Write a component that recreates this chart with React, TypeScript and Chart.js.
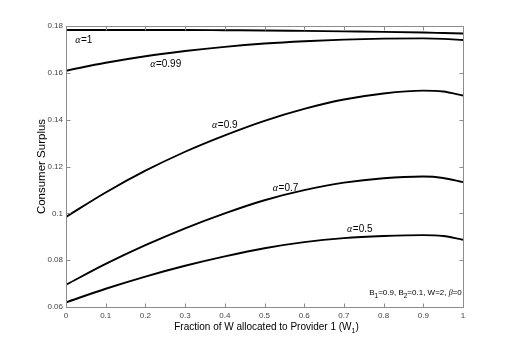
import React, { useEffect, useRef } from "react";
import { Chart, registerables } from "chart.js";

Chart.register(...registerables);

// ---- data ----
const xValues = [0, 0.1, 0.2, 0.3, 0.4, 0.5, 0.6, 0.7, 0.8, 0.9, 0.95, 1];
const alpha1 = [0.1783, 0.1783, 0.1783, 0.1783, 0.1782, 0.1781, 0.1779, 0.1777, 0.1775, 0.1772, 0.177, 0.1768];
const alpha099 = [0.1609, 0.1643, 0.1671, 0.1693, 0.1711, 0.1725, 0.1735, 0.1742, 0.1746, 0.1747, 0.1745, 0.174];
const alpha09 = [0.0985, 0.1089, 0.1182, 0.1263, 0.1333, 0.1395, 0.1446, 0.1486, 0.1512, 0.1524, 0.152, 0.1503];
const alpha07 = [0.0695, 0.0784, 0.0864, 0.0936, 0.1, 0.1056, 0.1099, 0.1131, 0.115, 0.1157, 0.1151, 0.1133];
const alpha05 = [0.062, 0.0678, 0.073, 0.0776, 0.0816, 0.0851, 0.0877, 0.0894, 0.0903, 0.0907, 0.0903, 0.0887];

const seriesNames = ["α=1", "α=0.99", "α=0.9", "α=0.7", "α=0.5"];
const seriesValues = [alpha1, alpha099, alpha09, alpha07, alpha05];
const labelAlphaValues = ["1", "0.99", "0.9", "0.7", "0.5"];
// label anchor points (data coordinates)
const labelX = [0.023, 0.212, 0.368, 0.521, 0.708];
const labelY = [0.174, 0.1638, 0.1377, 0.1108, 0.0933];

const xTickLabels = ["0", "0.1", "0.2", "0.3", "0.4", "0.5", "0.6", "0.7", "0.8", "0.9", "1"];
const yTickLabels = ["0.06", "0.08", "0.1", "0.12", "0.14", "0.16", "0.18"];

const xTitle = "Fraction of W allocated to Provider 1 (W";
const xTitleSub = "1";
const yTitle = "Consumer Surplus";
const noteAnchor = [0.997, 0.066];

const SANS = "'Liberation Sans', Arial, sans-serif";
const NARROW = "'Liberation Sans Narrow', 'Liberation Sans', Arial, sans-serif";

const decorPlugin = {
  id: "decor",
  afterDraw(chart: any) {
    const { ctx, chartArea: a } = chart;
    const xs = chart.scales.x;
    const ys = chart.scales.y;
    ctx.save();
    // box
    ctx.strokeStyle = "#8c8c8c";
    ctx.lineWidth = 1;
    const L = Math.round(a.left) + 0.5;
    const R = Math.round(a.right) + 0.5;
    const T = Math.round(a.top) + 0.5;
    const B = Math.round(a.bottom) + 0.5;
    ctx.beginPath();
    ctx.rect(L, T, R - L, B - T);
    ctx.stroke();
    // inward ticks
    const tl = 4;
    ctx.beginPath();
    xs.ticks.forEach((t: any) => {
      const px = Math.round(xs.getPixelForValue(t.value)) + 0.5;
      ctx.moveTo(px, B);
      ctx.lineTo(px, B - tl);
      ctx.moveTo(px, T);
      ctx.lineTo(px, T + tl);
    });
    ys.ticks.forEach((t: any) => {
      const py = Math.round(ys.getPixelForValue(t.value)) + 0.5;
      ctx.moveTo(L, py);
      ctx.lineTo(L + tl, py);
      ctx.moveTo(R, py);
      ctx.lineTo(R - tl, py);
    });
    ctx.stroke();

    // curve labels
    ctx.fillStyle = "#000";
    ctx.textBaseline = "middle";
    ctx.textAlign = "left";
    seriesNames.forEach((_, i) => {
      const px = xs.getPixelForValue(labelX[i]);
      const py = ys.getPixelForValue(labelY[i]);
      ctx.font = `italic 10px 'Liberation Serif', serif`;
      ctx.fillText("α", px, py);
      const w = ctx.measureText("α").width;
      ctx.font = `10px ${SANS}`;
      ctx.fillText("=" + labelAlphaValues[i], px + w + 0.5, py);
    });

    // parameter note (right aligned)
    const parts: [string, string][] = [
      ["B", "n"], ["1", "s"], ["=0.9, B", "n"], ["2", "s"], ["=0.1, W=2, ", "n"], ["β", "g"], ["=0", "n"],
    ];
    const fontFor = (k: string) =>
      k === "s" ? `6.5px ${SANS}` : k === "g" ? `italic 8px 'Liberation Serif', serif` : `8px ${SANS}`;
    let total = 0;
    parts.forEach(([s, k]) => {
      ctx.font = fontFor(k);
      total += ctx.measureText(s).width;
    });
    let nx = xs.getPixelForValue(noteAnchor[0]) - total;
    const ny = ys.getPixelForValue(noteAnchor[1]);
    parts.forEach(([s, k]) => {
      ctx.font = fontFor(k);
      ctx.fillText(s, nx, k === "s" ? ny + 3 : ny);
      nx += ctx.measureText(s).width;
    });

    // x title
    ctx.font = `10px ${SANS}`;
    const w1 = ctx.measureText(xTitle).width;
    ctx.font = `7px ${SANS}`;
    const w2 = ctx.measureText(xTitleSub).width;
    ctx.font = `10px ${SANS}`;
    const w3 = ctx.measureText(")").width;
    const cx = (a.left + a.right) / 2 + 2;
    let tx = cx - (w1 + w2 + w3) / 2;
    const ty = a.bottom + 20;
    ctx.fillText(xTitle, tx, ty);
    tx += w1;
    ctx.font = `7px ${SANS}`;
    ctx.fillText(xTitleSub, tx, ty + 4);
    tx += w2;
    ctx.font = `10px ${SANS}`;
    ctx.fillText(")", tx, ty);

    // y title
    ctx.save();
    ctx.translate(a.left - 24, (a.top + a.bottom) / 2);
    ctx.rotate(-Math.PI / 2);
    ctx.textAlign = "center";
    ctx.font = `11.5px ${SANS}`;
    ctx.fillText(yTitle, 0, 0);
    ctx.restore();

    ctx.restore();
  },
};

export default function App() {
  const ref = useRef<HTMLCanvasElement | null>(null);
  useEffect(() => {
    if (!ref.current) return;
    const datasets = seriesValues.map((vals, i) => ({
      label: seriesNames[i],
      data: vals.map((v, j) => ({ x: xValues[j], y: v })),
      borderColor: "#000",
      borderWidth: 1.9,
      pointRadius: 0,
      fill: false,
      cubicInterpolationMode: "monotone" as const,
    }));
    const chart = new Chart(ref.current, {
      type: "line",
      data: { datasets },
      plugins: [decorPlugin],
      options: {
        responsive: false,
        animation: false,
        layout: { padding: { left: 0, top: 26, right: 49, bottom: 0 } },
        plugins: { legend: { display: false }, tooltip: { enabled: false } },
        scales: {
          x: {
            type: "linear",
            min: 0,
            max: 1,
            ticks: {
              stepSize: 0.1,
              padding: 4,
              color: "#444",
              font: { family: NARROW, size: 8 },
              maxRotation: 0,
              autoSkip: false,
              callback: (_v: any, i: number) => xTickLabels[i],
            },
            grid: { display: false, drawTicks: false },
            border: { display: false },
            afterFit: (s: any) => {
              s.height = 39;
            },
          },
          y: {
            type: "linear",
            min: 0.06,
            max: 0.18,
            ticks: {
              stepSize: 0.02,
              padding: 3,
              color: "#444",
              font: { family: NARROW, size: 8 },
              autoSkip: false,
              callback: (_v: any, i: number) => yTickLabels[i],
            },
            grid: { display: false, drawTicks: false },
            border: { display: false },
            afterFit: (s: any) => {
              s.width = 66;
            },
          },
        },
      },
    });
    return () => chart.destroy();
  }, []);
  return (
    <div style={{ position: "fixed", left: 0, top: 0, width: 512, height: 346, background: "#fff" }}>
      <canvas ref={ref} width={512} height={346} style={{ display: "block" }} />
    </div>
  );
}
